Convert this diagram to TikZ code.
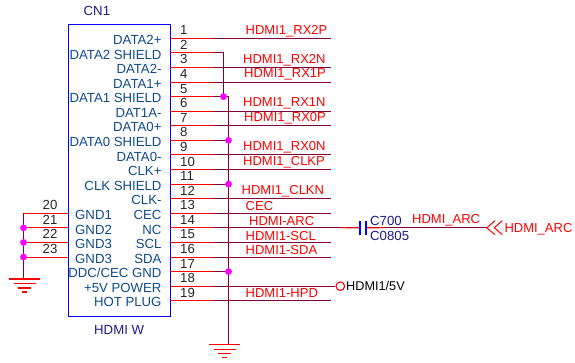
\documentclass[tikz,border=0pt]{standalone}
\usepackage{fontspec}
\setmainfont{Liberation Sans}
\definecolor{wirec}{HTML}{80003C}
\definecolor{pinc}{HTML}{FF0000}
\definecolor{namec}{HTML}{0F4C8A}
\definecolor{partc}{HTML}{1A1A8C}
\definecolor{jointc}{HTML}{FF00FF}
\tikzset{
  wire/.style={wirec, line width=1pt},
  pinline/.style={pinc, line width=1pt},
  joint/.style={circle, fill=jointc, inner sep=0pt, minimum size=6.8pt},
  txt/.style={inner sep=0pt, font=\fontsize{13.2}{13.2}\selectfont},
  pinname/.style={txt, namec, anchor=base east},
  leftname/.style={txt, namec, anchor=base west},
  pinnum/.style={txt, black!85, anchor=base west},
  net/.style={txt, pinc, anchor=base west, font=\fontsize{13}{13}\selectfont},
  part/.style={txt, partc, anchor=base west},
  gnd/.pic={
    \draw[pinc, line width=1.1pt]
      (-15.5,0) -- (15.5,0)
      (-11,4.5) -- (11,4.5)
      (-6.5,9) -- (6.5,9)
      (-2.5,13) -- (2.5,13);
  }
}
\begin{document}
\begin{tikzpicture}[x=1pt, y=-1pt]
    \useasboundingbox (0,0) rectangle (575,362);
    \node[draw=blue, line width=1.1pt, inner sep=0pt, minimum width=102pt, minimum height=291.5pt,
      anchor=north west] (cn) at (67.5,24) {};
    \node[txt, partc, anchor=base west] (cnref) at (83.5,15) {CN1};
    \node[txt, partc, anchor=base west] (cnval) at (94,334) {HDMI W};

    % right pins
    \foreach \n/\pname in {1/DATA2+, 2/DATA2 SHIELD, 3/DATA2-, 4/DATA1+, 5/DATA1 SHIELD,
        6/DAT1A-, 7/DATA0+, 8/DATA0 SHIELD, 9/DATA0-, 10/CLK+, 11/CLK SHIELD, 12/CLK-,
        13/CEC, 14/NC, 15/SCL, 16/SDA, 17/{DDC/CEC GND}, 18/+5V POWER, 19/HOT PLUG} {
      \pgfmathsetmacro{\py}{38.3+(\n-1)*14.58}
      \coordinate (a\n) at (169.5,\py);
      \coordinate (b\n) at (213,\py);
      \node[pinname] (name\n) at (161.7,\py+6.2) {\pname};
      \node[pinnum] (num\n) at (180,\py-3.5) {\n};
      \draw[pinline] (a\n) -- (b\n);
    }

    % left pins
    \foreach \n/\pname/\k in {20/GND1/0, 21/GND2/1, 22/GND3/2, 23/GND3/3} {
      \pgfmathsetmacro{\py}{213.3+\k*14.58}
      \coordinate (a\n) at (67.5,\py);
      \coordinate (b\n) at (23.5,\py);
      \node[leftname] (name\n) at (75,\py+6.2) {\pname};
      \node[pinnum] (num\n) at (42.5,\py-3.5) {\n};
      \draw[pinline] (a\n) -- (b\n);
    }

    % nets
    \foreach \n/\nx/\nb/\nname in {1/245.5/34/HDMI1\_RX2P, 3/243/63/HDMI1\_RX2N, 4/244/77/HDMI1\_RX1P,
        6/243/106.7/HDMI1\_RX1N, 7/244/121/HDMI1\_RX0P, 9/243/150.5/HDMI1\_RX0N,
        10/243/165/HDMI1\_CLKP, 12/241.5/194/HDMI1\_CLKN, 13/245.5/210.7/CEC,
        14/249/225/HDMI-ARC, 15/245.5/240/HDMI1-SCL, 16/245.5/254/HDMI1-SDA,
        19/245.5/297.7/HDMI1-HPD} {
      \coordinate (c\n) at (b\n -| 331,0);
      \draw[wire] (b\n) -- (c\n);
      \node[net] (net\n) at (\nx,\nb) {\nname};
    }

    % shields
    \coordinate (s2) at (223.5,0 |- b2);
    \coordinate (s5) at (223.5,0 |- b5);
    \coordinate (t5) at (228.5,0 |- b5);
    \coordinate (t8) at (228.5,0 |- b8);
    \coordinate (t11) at (228.5,0 |- b11);
    \coordinate (t17) at (228.5,0 |- b17);
    \coordinate (gndr) at (228.5,344.5);
    \draw[wire] (b2) -- (s2) -- (s5);
    \draw[wire] (b5) -- (t5) -- (gndr);
    \draw[wire] (b8) -- (t8);
    \draw[wire] (b11) -- (t11);
    \draw[wire] (b17) -- (t17);
    \node[joint] (j5) at (s5) {};
    \node[joint] (j8) at (t8) {};
    \node[joint] (j11) at (t11) {};
    \node[joint] (j17) at (t17) {};
    \pic at (224.5,344.7) {gnd};

    \coordinate (gndl) at (23.5,279);
    \draw[wire] (b20) -- (gndl);
    \node[joint] (j21) at (b21) {};
    \node[joint] (j22) at (b22) {};
    \node[joint] (j23) at (b23) {};
    \pic at (24.5,279) {gnd};

    % ARC cap
    \coordinate (capl) at (359.7,0 |- b14);
    \coordinate (capr) at (366,0 |- b14);
    \coordinate (arc) at (486.7,0 |- b14);
    \draw[wire] (c14) -- (capl);
    \draw[pinline] (340,227.7) -- (capl);
    \draw[wire] (capr) -- (arc);
    \draw[pinline] (capr) -- (385,227.7);
    \draw[blue, line width=2pt] ([yshift=-7pt]capl) -- ([yshift=7pt]capl);
    \draw[blue, line width=1.2pt] ([yshift=-7pt]capr) -- ([yshift=7pt]capr);
    \node[part] (capref) at (370,225.7) {C700};
    \node[part] (capval) at (370,240) {C0805};
    \node[net] (arcnet) at (412,223) {HDMI\_ARC};
    \node[net] (arcport) at (504.3,232.7) {HDMI\_ARC};
    \draw[pinline] (495,220.7) -- (arc) -- (495,234.7);
    \draw[pinline] (502.3,220.7) -- (494.3,227.7) -- (502.3,234.7);

    % 5V
    \node[draw=pinc, circle, line width=1.1pt, inner sep=0pt, minimum size=8.6pt] (p5v) at (340.3,0 |- b18) {};
    \draw[wire] (b18) -- (p5v);
    \node[txt, black, anchor=base west, font=\fontsize{12.7}{13}\selectfont] (p5vlab) at (346,290) {HDMI1/5V};
\end{tikzpicture}
\end{document}
